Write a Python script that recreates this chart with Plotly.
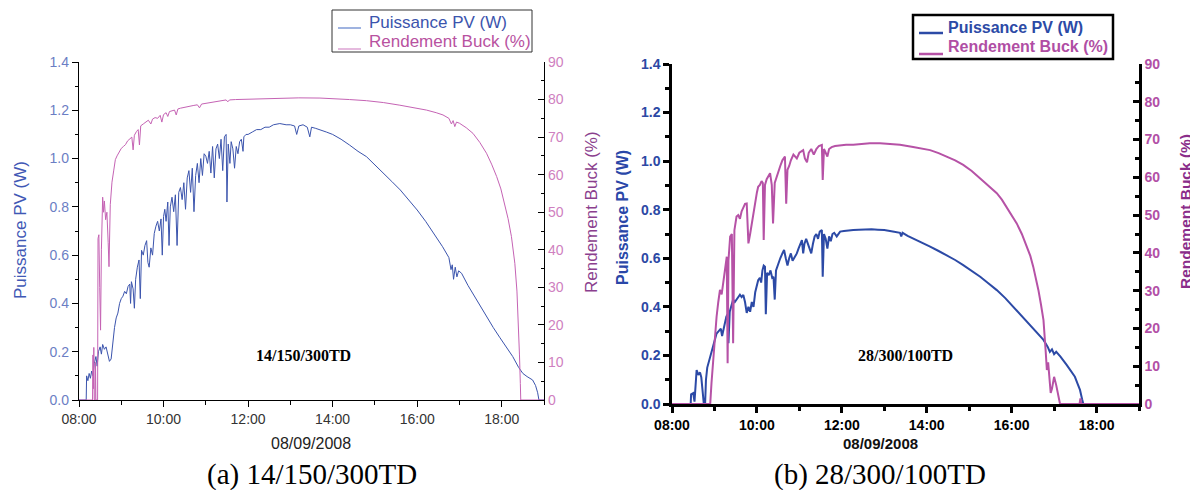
import plotly.graph_objects as go

# ---------------- data (hours of day) ----------------
a_pv_t = [8.00, 8.17, 8.18, 8.21, 8.24, 8.27, 8.30, 8.33, 8.36, 8.40, 8.43, 8.46, 8.50, 8.53, 8.56, 8.60,
          8.64, 8.68, 8.72, 8.76, 8.80, 8.84, 8.88, 8.92, 8.96, 9.00, 9.04, 9.08, 9.12, 9.16, 9.20, 9.22,
          9.24, 9.28, 9.31, 9.34, 9.38, 9.42, 9.45, 9.48, 9.52, 9.56, 9.60, 9.63, 9.66, 9.70, 9.74, 9.78,
          9.82, 9.86, 9.90, 9.94, 9.97, 10.00, 10.03, 10.06, 10.10, 10.13, 10.16, 10.20, 10.24, 10.28,
          10.32, 10.36, 10.40, 10.44, 10.48, 10.52, 10.56, 10.60, 10.64, 10.68, 10.72, 10.76, 10.80,
          10.84, 10.88, 10.92, 10.96, 11.00, 11.04, 11.08, 11.12, 11.16, 11.20, 11.24, 11.28, 11.32,
          11.36, 11.40, 11.44, 11.48, 11.50, 11.53, 11.57, 11.60, 11.64, 11.68, 11.72, 11.76, 11.80,
          11.84, 11.88, 11.90, 11.95, 12.00, 12.10, 12.20, 12.30, 12.40, 12.50, 12.60, 12.75, 12.90,
          13.00, 13.10, 13.15, 13.20, 13.30, 13.40, 13.46, 13.50, 13.60, 13.70, 13.85, 14.00, 14.20,
          14.40, 14.60, 14.80, 15.00, 15.20, 15.40, 15.60, 15.80, 16.00, 16.20, 16.40, 16.60, 16.75,
          16.80, 16.83, 16.86, 16.90, 16.94, 16.98, 17.05, 17.20, 17.35, 17.50, 17.65, 17.80, 17.95,
          18.10, 18.26, 18.40, 18.50, 18.60, 18.73, 18.80, 18.85, 18.88, 19.00]
a_pv = [0, 0, 0.10, 0.08, 0.11, 0.09, 0.12, 0.10, 0.15, 0.18, 0.14, 0.20, 0.22, 0.19, 0.23, 0.21,
        0.22, 0.19, 0.16, 0.17, 0.24, 0.30, 0.34, 0.36, 0.40, 0.42, 0.43, 0.45, 0.44, 0.47, 0.48, 0.40,
        0.49, 0.46, 0.38, 0.50, 0.55, 0.58, 0.42, 0.62, 0.60, 0.64, 0.66, 0.57, 0.55, 0.63, 0.60, 0.69,
        0.72, 0.74, 0.70, 0.75, 0.60, 0.76, 0.79, 0.74, 0.82, 0.64, 0.80, 0.84, 0.78, 0.85,
        0.64, 0.86, 0.88, 0.83, 0.90, 0.79, 0.92, 0.95, 0.86, 0.96, 0.78, 0.93, 0.98,
        0.90, 1.00, 0.93, 1.02, 1.01, 0.98, 1.03, 0.94, 1.05, 0.92, 1.04, 1.06, 1.00,
        1.08, 0.95, 1.09, 1.10, 0.82, 1.06, 0.98, 1.07, 1.04, 0.96, 1.05, 1.02, 1.07,
        1.08, 1.03, 1.09, 1.10, 1.10, 1.11, 1.12, 1.12, 1.13, 1.13, 1.14, 1.145, 1.14,
        1.14, 1.135, 1.10, 1.135, 1.14, 1.13, 1.09, 1.13, 1.125, 1.12, 1.11, 1.10, 1.08,
        1.056, 1.03, 1.008, 0.975, 0.94, 0.905, 0.87, 0.83, 0.787, 0.74, 0.69, 0.635, 0.59,
        0.54, 0.56, 0.50, 0.55, 0.51, 0.535, 0.525, 0.475, 0.43, 0.385, 0.345, 0.30, 0.26,
        0.22, 0.18, 0.135, 0.11, 0.097, 0.083, 0.06, 0.03, 0, 0]

a_buck_t = [8.00, 8.32, 8.33, 8.34, 8.35, 8.36, 8.38, 8.39, 8.40, 8.44, 8.45, 8.47, 8.49, 8.51, 8.53,
            8.56, 8.58, 8.60, 8.63, 8.66, 8.69, 8.71, 8.74, 8.78, 8.82, 8.86, 8.90, 8.95, 9.00, 9.05,
            9.10, 9.15, 9.20, 9.25, 9.28, 9.31, 9.36, 9.40, 9.43, 9.46, 9.52, 9.58, 9.64, 9.70, 9.74,
            9.80, 9.86, 9.92, 9.96, 10.00, 10.06, 10.10, 10.14, 10.20, 10.26, 10.30, 10.34, 10.40,
            10.50, 10.60, 10.70, 10.80, 10.85, 10.90, 11.00, 11.10, 11.20, 11.30, 11.40, 11.48, 11.52,
            11.56, 11.70, 11.96, 12.40, 12.75, 13.20, 13.70, 14.00, 14.40, 14.80, 15.20, 15.59, 15.90,
            16.22, 16.45, 16.61, 16.75, 16.81, 16.85, 16.89, 16.93, 17.00, 17.16, 17.32, 17.48, 17.64,
            17.76, 17.88, 17.98, 18.07, 18.15, 18.23, 18.31, 18.36, 18.39, 18.42, 18.44, 18.45, 19.00]
a_buck = [0, 0, 12, 3, 14, 0, 0, 10, 0, 0, 43, 44, 30, 18.6, 40,
          54, 50, 53, 48, 50, 42, 35.5, 52, 58, 61, 64, 65, 66, 67, 67.5,
          68, 69, 69.5, 70, 66.6, 70.5, 71.5, 72, 67.9, 73, 73.5, 74, 74.5, 73.5, 74.8,
          75.2, 75, 75.8, 74, 76, 76.5, 75.5, 76.8, 77, 77.2, 75.9, 77.5, 77.7,
          78, 78.2, 78.4, 78.6, 77.8, 78.8, 79, 79.1, 79.3, 79.5, 79.7, 79.9, 79.4,
          79.9, 80, 80.1, 80.25, 80.35, 80.45, 80.4, 80.3, 80.0, 79.7, 79.2, 78.5, 77.9,
          77.2, 76.5, 75.9, 75.0, 73.5, 74.4, 72.8, 74.0, 73.7, 72.5, 71.0, 68.6, 65.7,
          62.8, 59.5, 56.2, 52.4, 48.3, 43.5, 36.4, 29, 22.2, 12, 4.4, 0, 0]

b_pv_t = [8.00, 8.44, 8.45, 8.50, 8.53, 8.56, 8.58, 8.62, 8.66, 8.69, 8.72, 8.75, 8.78, 8.80, 8.83,
          8.86, 8.90, 8.93, 8.97, 9.01, 9.05, 9.10, 9.15, 9.18, 9.21, 9.25, 9.28, 9.31, 9.33, 9.36,
          9.40, 9.44, 9.48, 9.52, 9.56, 9.60, 9.64, 9.68, 9.72, 9.76, 9.80, 9.84, 9.88, 9.92, 9.96,
          10.00, 10.03, 10.07, 10.10, 10.13, 10.16, 10.19, 10.21, 10.24, 10.28, 10.32, 10.36, 10.39,
          10.42, 10.45, 10.50, 10.55, 10.60, 10.64, 10.68, 10.72, 10.76, 10.80, 10.84, 10.88, 10.94,
          10.98, 11.02, 11.06, 11.09, 11.12, 11.16, 11.20, 11.24, 11.28, 11.32, 11.36, 11.40, 11.44,
          11.48, 11.53, 11.55, 11.58, 11.62, 11.66, 11.70, 11.74, 11.78, 11.82, 11.88, 11.96, 12.05,
          12.15, 12.27, 12.40, 12.55, 12.70, 12.85, 13.00, 13.20, 13.37, 13.40, 13.43, 13.55, 13.68,
          13.88, 14.08, 14.28, 14.47, 14.67, 14.86, 15.06, 15.26, 15.45, 15.65, 15.85, 16.04, 16.24,
          16.43, 16.60, 16.75, 16.85, 16.90, 16.95, 17.00, 17.05, 17.15, 17.30, 17.40, 17.49, 17.55,
          17.61, 17.66, 17.69, 19.00]
b_pv = [0, 0, 0.04, 0.045, 0.01, 0.10, 0.14, 0.12, 0.13, 0.11, 0.04, 0.0, 0.0, 0.10, 0.15,
        0.17, 0.20, 0.22, 0.24, 0.27, 0.29, 0.30, 0.31, 0.28, 0.305, 0.33, 0.36, 0.37, 0.25, 0.38,
        0.41, 0.43, 0.42, 0.43, 0.44, 0.45, 0.44, 0.449, 0.42, 0.375, 0.40, 0.38, 0.42, 0.40, 0.46,
        0.49, 0.51, 0.52, 0.50, 0.55, 0.57, 0.565, 0.37, 0.54, 0.53, 0.55, 0.52, 0.524,
        0.43, 0.55, 0.58, 0.60, 0.62, 0.634, 0.60, 0.57, 0.60, 0.62, 0.59, 0.60, 0.62,
        0.64, 0.66, 0.675, 0.62, 0.66, 0.68, 0.66, 0.64, 0.62, 0.66, 0.69, 0.70, 0.68,
        0.71, 0.716, 0.524, 0.70, 0.68, 0.64, 0.69, 0.67, 0.70, 0.705, 0.69, 0.71, 0.712,
        0.715, 0.716, 0.717, 0.719, 0.72, 0.718, 0.716, 0.71, 0.705, 0.69, 0.705, 0.692, 0.682,
        0.665, 0.648, 0.63, 0.613, 0.593, 0.572, 0.549, 0.524, 0.497, 0.469, 0.436, 0.40, 0.363,
        0.325, 0.295, 0.264, 0.235, 0.215, 0.225, 0.205, 0.215, 0.195, 0.16, 0.135, 0.112, 0.085,
        0.058, 0.02, 0, 0]

b_buck_t = [8.00, 8.90, 8.93, 8.97, 9.01, 9.05, 9.09, 9.13, 9.17, 9.21, 9.25, 9.29, 9.31, 9.33, 9.37,
            9.41, 9.44, 9.47, 9.52, 9.56, 9.60, 9.64, 9.68, 9.72, 9.76, 9.80, 9.84, 9.88, 9.92, 9.96,
            10.00, 10.03, 10.07, 10.11, 10.14, 10.16, 10.19, 10.23, 10.27, 10.31, 10.35, 10.38, 10.42,
            10.46, 10.50, 10.55, 10.60, 10.66, 10.69, 10.72, 10.76, 10.80, 10.86, 10.94, 11.00, 11.05,
            11.09, 11.13, 11.18, 11.22, 11.28, 11.34, 11.40, 11.46, 11.53, 11.55, 11.58, 11.62, 11.66,
            11.70, 11.76, 11.84, 11.96, 12.10, 12.27, 12.45, 12.66, 12.90, 13.15, 13.37, 13.68, 13.88,
            14.08, 14.28, 14.47, 14.67, 14.86, 15.06, 15.26, 15.45, 15.65, 15.77, 15.88, 16.00, 16.12,
            16.24, 16.36, 16.44, 16.51, 16.57, 16.63, 16.69, 16.75, 16.80, 16.83, 16.86, 16.89, 16.92,
            16.95, 17.00, 17.05, 17.10, 17.14, 17.60, 17.62, 17.64, 19.00]
b_buck = [0, 0, 5.5, 12, 16.9, 23.1, 27, 30.2, 29, 32.8, 35, 39, 10.8, 38, 44.3,
          45, 16.1, 46, 49.6, 50, 49, 51, 52, 53, 53.1, 42.5, 45, 48, 50.5, 54,
          56, 57.5, 58, 59, 58.5, 43.4, 58, 59.5, 60.5, 61.1, 58, 47.8, 58.5,
          60, 61.5, 63, 64.5, 65.5, 53, 62, 63, 64.5, 66, 65, 66.5, 67,
          67.2, 65, 64, 66.5, 67.5, 66, 67.5, 68.3, 68.6, 59.3, 67.5, 66.5, 65.5,
          67.5, 68, 68.3, 68.5, 68.6, 68.6, 68.8, 69, 69, 68.8, 68.6, 68.0, 67.6,
          67.2, 66.4, 65.5, 64.5, 63.3, 61.7, 59.7, 57.9, 55.8, 54.1, 52.2, 50.1, 47.8,
          45, 41.6, 39.2, 36.3, 33.5, 30.2, 26.4, 22.2, 14.3, 9, 11, 6, 2.9,
          4, 7.2, 5, 2, 0, 0, 1.5, 0, 0]

tick_hours = [8, 10, 12, 14, 16, 18]
tick_labels = ["08:00", "10:00", "12:00", "14:00", "16:00", "18:00"]
series_names = ["Puissance PV (W)", "Rendement Buck (%)"]

# ---------------- figure ----------------
W, H = 1198, 490
OFF = 8  # page body margin offset
def px(x):
    return (x - OFF) / W
def py(y):
    return 1 - (y - OFF) / H

SANS = "Liberation Sans"
SERIF = "Liberation Serif"

fig = go.Figure()

fig.add_trace(go.Scatter(x=a_pv_t, y=a_pv, mode="lines", line=dict(color="#3b54ad", width=1),
                         name=series_names[0], xaxis="x", yaxis="y"))
fig.add_trace(go.Scatter(x=a_buck_t, y=a_buck, mode="lines", line=dict(color="#c563b4", width=1),
                         name=series_names[1], xaxis="x", yaxis="y2"))
fig.add_trace(go.Scatter(x=b_pv_t, y=b_pv, mode="lines", line=dict(color="#2c4aa6", width=2),
                         name=series_names[0], xaxis="x2", yaxis="y3"))
fig.add_trace(go.Scatter(x=b_buck_t, y=b_buck, mode="lines", line=dict(color="#b652a6", width=2),
                         name=series_names[1], xaxis="x2", yaxis="y4"))

ax_a = dict(showgrid=False, zeroline=False, showline=True, linecolor="black", linewidth=1.3,
            ticks="outside", ticklen=6, tickwidth=1.3, tickcolor="black", automargin=False)
ax_b = dict(showgrid=False, zeroline=False, showline=True, linecolor="black", linewidth=2.5,
            ticks="outside", ticklen=6, tickwidth=2.5, tickcolor="black", automargin=False)

xa_dom = [px(79), px(544)]
ya_dom = [py(400), py(62)]
xb_dom = [px(672), px(1139)]
yb_dom = [py(404), py(64)]

fig.update_layout(
    template="none", showlegend=False,
    width=W, height=H, margin=dict(l=0, r=0, t=0, b=0, autoexpand=False),
    paper_bgcolor="white", plot_bgcolor="white",
    xaxis=dict(**ax_a, domain=xa_dom, anchor="y", range=[8, 19], tickmode="array",
               tickvals=tick_hours, ticktext=tick_labels,
               tickfont=dict(family=SANS, size=14, color="#333333"),
               minor=dict(tickmode="linear", tick0=8, dtick=1, ticklen=4, tickwidth=1.3,
                          tickcolor="black", ticks="outside")),
    yaxis=dict(**ax_a, domain=ya_dom, anchor="x", range=[0, 1.4], dtick=0.2, tickformat=".1f",
               tickfont=dict(family=SANS, size=14, color="#6b7ec4"),
               minor=dict(dtick=0.1, ticklen=3, tickwidth=1.3, tickcolor="black", ticks="outside")),
    yaxis2=dict(showgrid=False, zeroline=False, showline=True, linecolor="black", linewidth=1.3,
                ticks="inside", ticklen=6, tickwidth=1.3, tickcolor="black", automargin=False,
                overlaying="y", side="right", anchor="x", range=[0, 90], dtick=10,
                tickfont=dict(family=SANS, size=14, color="#cf7fc0"),
                minor=dict(dtick=5, ticklen=3, tickwidth=1.3, tickcolor="black", ticks="inside")),
    xaxis2=dict(**ax_b, domain=xb_dom, anchor="y3", range=[8, 19], tickmode="array",
                tickvals=tick_hours, ticktext=tick_labels,
                tickfont=dict(family=SANS, size=14, color="black", weight="bold"),
                minor=dict(tickmode="linear", tick0=8, dtick=1, ticklen=4, tickwidth=2.5,
                           tickcolor="black", ticks="outside")),
    yaxis3=dict(**ax_b, domain=yb_dom, anchor="x2", range=[0, 1.4], dtick=0.2, tickformat=".1f",
                tickfont=dict(family=SANS, size=14, color="#2c48a4", weight="bold"),
                minor=dict(dtick=0.1, ticklen=4, tickwidth=2.5, tickcolor="black", ticks="outside")),
    yaxis4=dict(showgrid=False, zeroline=False, showline=True, linecolor="black", linewidth=2.5,
                ticks="inside", ticklen=6, tickwidth=2.5, tickcolor="black", automargin=False,
                overlaying="y3", side="right", anchor="x2", range=[0, 90], dtick=10,
                tickfont=dict(family=SANS, size=14, color="#b24fa6", weight="bold"),
                minor=dict(dtick=5, ticklen=4, tickwidth=2.5, tickcolor="black", ticks="inside")),
)

# ---------------- legends drawn as boxes (one per panel) ----------------
shapes = [
    dict(type="rect", x0=px(332), x1=px(532), y0=py(52), y1=py(10),
         line=dict(color="#333333", width=1), fillcolor="white"),
    dict(type="line", x0=px(338), x1=px(361), y0=py(28), y1=py(28),
         line=dict(color="#7f9ad6", width=1.5)),
    dict(type="line", x0=px(338), x1=px(361), y0=py(49), y1=py(49),
         line=dict(color="#dca3d3", width=1.5)),
    dict(type="rect", x0=px(913), x1=px(1113), y0=py(59), y1=py(15),
         line=dict(color="black", width=2.5), fillcolor="white"),
    dict(type="line", x0=px(919), x1=px(943), y0=py(33), y1=py(33),
         line=dict(color="#2c4aa6", width=2.5)),
    dict(type="line", x0=px(919), x1=px(943), y0=py(54), y1=py(54),
         line=dict(color="#b652a6", width=2.5)),
]
for s in shapes:
    s.update(xref="paper", yref="paper", layer="above")
fig.update_layout(shapes=shapes)

ann = [
    dict(text=series_names[0], x=px(367), y=py(22), xanchor="left",
         font=dict(family=SANS, size=17, color="#3b54ad")),
    dict(text=series_names[1], x=px(367), y=py(42), xanchor="left",
         font=dict(family=SANS, size=17, color="#b8529f")),
    dict(text="<b>" + series_names[0] + "</b>", x=px(946), y=py(27), xanchor="left",
         font=dict(family=SANS, size=16, color="#2c4aa6")),
    dict(text="<b>" + series_names[1] + "</b>", x=px(946), y=py(47), xanchor="left",
         font=dict(family=SANS, size=16, color="#b04ea4")),
    dict(text=series_names[0], x=px(20), y=py(230), textangle=-90,
         font=dict(family=SANS, size=17, color="#3f58b5")),
    dict(text=series_names[1], x=px(591), y=py(212), textangle=-90,
         font=dict(family=SANS, size=17, color="#8b3f8e")),
    dict(text="<b>14/150/300TD</b>", x=px(303), y=py(355),
         font=dict(family=SERIF, size=16, color="black")),
    dict(text="08/09/2008", x=px(311), y=py(443),
         font=dict(family=SANS, size=16, color="#222222")),
    dict(text="(a) 14/150/300TD", x=px(312), y=py(474),
         font=dict(family=SERIF, size=29, color="black")),
    dict(text="<b>" + series_names[0] + "</b>", x=px(622), y=py(217), textangle=-90,
         font=dict(family=SANS, size=16, color="#2a47a8")),
    dict(text="<b>" + series_names[1] + "</b>", x=px(1185), y=py(212), textangle=-90,
         font=dict(family=SANS, size=15.5, color="#8a2d8a")),
    dict(text="<b>28/300/100TD</b>", x=px(905), y=py(355),
         font=dict(family=SERIF, size=16, color="black")),
    dict(text="<b>08/09/2008</b>", x=px(880), y=py(443),
         font=dict(family=SANS, size=15, color="#111111")),
    dict(text="(b) 28/300/100TD", x=px(880), y=py(474),
         font=dict(family=SERIF, size=29, color="black")),
]
for a in ann:
    a.setdefault("xanchor", "center")
    a.update(xref="paper", yref="paper", showarrow=False, yanchor="middle")
fig.update_layout(annotations=ann)

fig.write_html("out.html")
